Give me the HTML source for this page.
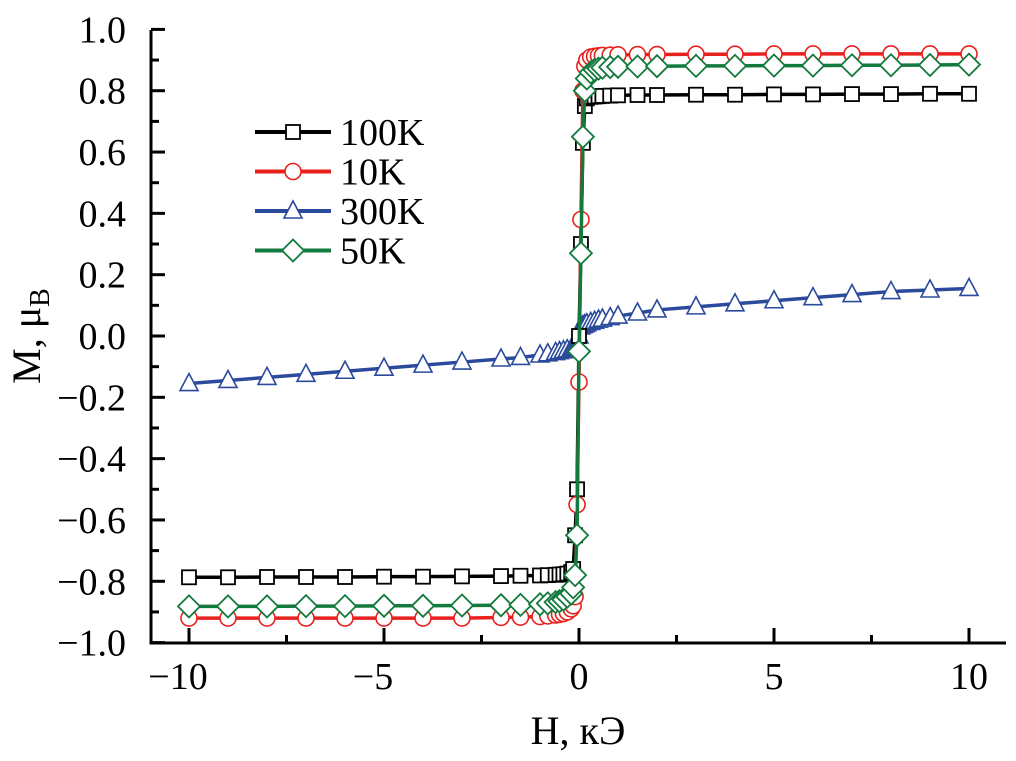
<!DOCTYPE html>
<html><head><meta charset="utf-8"><style>
body{margin:0;background:#fff}
svg text{font-family:"Liberation Serif",serif;fill:#000}
</style></head><body>
<svg id="chart" width="1016" height="756" xmlns="http://www.w3.org/2000/svg">
<g id="axes"></g>
<g id="series"></g>
<g id="legend"></g>
<text x="578" y="744" font-size="40" text-anchor="middle">H, кЭ</text>
<text transform="translate(40,336) rotate(-90)" font-size="40" text-anchor="middle">M, μ<tspan font-size="28" dy="9">B</tspan></text>
</svg>
<script>
const fields = [-10,-9,-8,-7,-6,-5,-4,-3,-2,-1.5,-1,-0.8,-0.6,-0.5,-0.4,-0.3,-0.2,-0.15,-0.1,-0.05,0,0.05,0.1,0.15,0.2,0.3,0.4,0.5,0.6,0.8,1,1.5,2,3,4,5,6,7,8,9,10];
const m100K = [-0.787,-0.787,-0.786,-0.786,-0.786,-0.785,-0.785,-0.784,-0.783,-0.782,-0.781,-0.78,-0.779,-0.778,-0.777,-0.775,-0.77,-0.76,-0.65,-0.5,0,0.3,0.63,0.75,0.775,0.78,0.781,0.782,0.783,0.784,0.785,0.786,0.786,0.787,0.787,0.788,0.788,0.789,0.789,0.79,0.79];
const m10K = [-0.92,-0.92,-0.92,-0.92,-0.92,-0.92,-0.92,-0.92,-0.918,-0.917,-0.915,-0.913,-0.91,-0.908,-0.905,-0.9,-0.89,-0.88,-0.85,-0.55,-0.15,0.38,0.8,0.88,0.9,0.91,0.912,0.914,0.915,0.916,0.917,0.918,0.918,0.919,0.919,0.92,0.92,0.92,0.92,0.92,0.92];
const m300K = [-0.155,-0.145,-0.135,-0.125,-0.115,-0.105,-0.095,-0.085,-0.075,-0.07,-0.062,-0.058,-0.054,-0.051,-0.048,-0.045,-0.042,-0.04,-0.038,-0.035,0,0.03,0.034,0.037,0.04,0.044,0.048,0.052,0.055,0.06,0.065,0.075,0.085,0.095,0.105,0.115,0.125,0.135,0.145,0.15,0.155];
const m50K = [-0.882,-0.882,-0.882,-0.881,-0.881,-0.88,-0.88,-0.879,-0.878,-0.877,-0.875,-0.872,-0.868,-0.865,-0.86,-0.85,-0.84,-0.82,-0.78,-0.65,-0.05,0.27,0.65,0.8,0.84,0.86,0.868,0.872,0.875,0.877,0.878,0.879,0.88,0.881,0.881,0.882,0.882,0.883,0.883,0.884,0.885];
const yTicks = [-1.0,-0.8,-0.6,-0.4,-0.2,0.0,0.2,0.4,0.6,0.8,1.0];
const xTicks = [-10,-5,0,5,10];
const seriesNames = ["100K","10K","300K","50K"];

const NS="http://www.w3.org/2000/svg";
const X0=579, XS=39, Y0=336, YS=306.6;
function xp(v){return X0+v*XS;}
function yp(v){return Y0-v*YS;}
function mk(tag,attrs,parent){const e=document.createElementNS(NS,tag);for(const k in attrs)e.setAttribute(k,attrs[k]);parent.appendChild(e);return e;}
const axes=document.getElementById('axes');
const ser=document.getElementById('series');
const leg=document.getElementById('legend');
const L=151,B=643,R=1006,T=30;
let a=mk('line',{x1:L,y1:T,x2:L,y2:B+1.5,stroke:'#000','stroke-width':3},axes);


a=mk('line',{x1:L-1.5,y1:B,x2:R,y2:B,stroke:'#000','stroke-width':3},axes);


yTicks.forEach((v,i)=>{
  const y=yp(v);
  const t=mk('line',{x1:L,y1:y,x2:L+14,y2:y,stroke:'#000','stroke-width':3},axes);
  
  
  if(i<yTicks.length-1){const ym=yp(v+0.1);const m=mk('line',{x1:L,y1:ym,x2:L+8,y2:ym,stroke:'#000','stroke-width':3},axes);
  
  }
  const tx=mk('text',{x:126,y:y+13,'font-size':38,'text-anchor':'end'},axes);
  tx.textContent=(v<0?'\u2212':'')+Math.abs(v).toFixed(1);
  
  
});
xTicks.forEach((v,i)=>{
  const x=xp(v);
  const t=mk('line',{x1:x,y1:B,x2:x,y2:B-15,stroke:'#000','stroke-width':3},axes);
  
  
  if(i<xTicks.length-1){const xm=xp(v+2.5);const m=mk('line',{x1:xm,y1:B,x2:xm,y2:B-8,stroke:'#000','stroke-width':3},axes);
  
  }
  const tx=mk('text',{x:x-(v<0?11:0),y:689,'font-size':38,'text-anchor':'middle'},axes);
  tx.textContent=(v<0?'\u2212':'')+Math.abs(v);
  
  
});
function marker(type,x,y,color,parent){
  let e;
  if(type==='square')e=mk('rect',{x:x-7,y:y-7,width:14,height:14,fill:'#fff',stroke:color,'stroke-width':1.8},parent);
  else if(type==='circle')e=mk('circle',{cx:x,cy:y,r:8,fill:'#fff',stroke:color,'stroke-width':1.6},parent);
  else if(type==='triangle')e=mk('polygon',{points:`${x},${y-10} ${x-9},${y+7} ${x+9},${y+7}`,fill:'#fff',stroke:color,'stroke-width':1.6},parent);
  else e=mk('polygon',{points:`${x},${y-11} ${x+11},${y} ${x},${y+11} ${x-11},${y}`,fill:'#fff',stroke:color,'stroke-width':1.8},parent);
  return e;
}
const defs=[{d:m300K,c:'#2b4a9c',t:'triangle',n:'300K'},{d:m100K,c:'#000',t:'square',n:'100K'},{d:m10K,c:'#e8211e',t:'circle',n:'10K'},{d:m50K,c:'#127a3c',t:'diamond',n:'50K'}];
defs.forEach(s=>{
  const g=mk('g',{},ser);
  
  
  const pts=fields.map((h,i)=>xp(h)+','+yp(s.d[i])).join(' ');
  const pl=mk('polyline',{points:pts,fill:'none',stroke:s.c,'stroke-width':3.5},g);
  
  
  fields.forEach((h,i)=>{
    const m=marker(s.t,xp(h),yp(s.d[i]),s.c,g);
    
    
  });
});
const legCols={"100K":['#000','square'],"10K":['#e8211e','circle'],"300K":['#2b4a9c','triangle'],"50K":['#127a3c','diamond']};
seriesNames.forEach((n,i)=>{
  const y=132+i*39.5;
  const g=mk('g',{},leg);
  
  
  mk('line',{x1:255,y1:y,x2:331,y2:y,stroke:legCols[n][0],'stroke-width':4},g);
  marker(legCols[n][1],293,y,legCols[n][0],g);
  const t=mk('text',{x:340,y:y+13,'font-size':38},g);
  t.textContent=n;
});
</script>
</body></html>
